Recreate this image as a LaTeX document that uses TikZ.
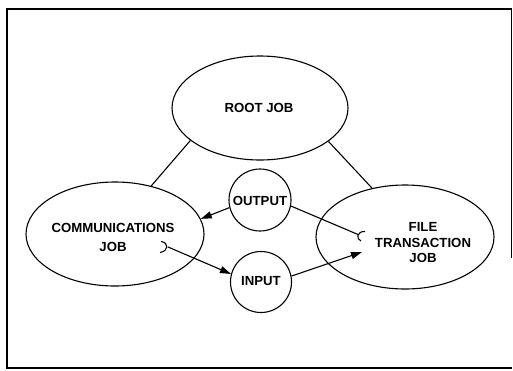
\documentclass[tikz,border=0pt]{standalone}
\usepackage{fontspec}
\setmainfont{Liberation Sans}
\usetikzlibrary{shapes.geometric,arrows.meta}
\tikzset{
  job/.style={draw, ellipse, line width=1.1pt, inner sep=0pt},
  port/.style={draw, circle, line width=1.1pt, inner sep=0pt, minimum size=62pt},
  lbl/.style={font=\fontsize{13.2}{15}\selectfont\bfseries, align=center, inner sep=0pt},
  conn/.style={line width=1.1pt},
  arr/.style={line width=1.1pt, -{Triangle[length=11pt,width=7pt]}},
  hook/.style={line width=1.1pt}
}
\begin{document}
\begin{tikzpicture}[x=1pt,y=-1pt]
\useasboundingbox (0,0) rectangle (513,370);
% frame
\draw[line width=1.4pt] (511.5,258) -- (511.5,9) -- (7,9) -- (7,368) -- (511.5,368);
% jobs
\node[job, minimum width=176pt, minimum height=104pt] (root) at (260,108) {};
\node[job, minimum width=178pt, minimum height=104pt] (comms) at (115,234) {};
\node[job, minimum width=178pt, minimum height=104pt] (file) at (405,237) {};
\node[port] (output) at (260,200) {};
\node[port, minimum size=61pt] (input) at (261,282) {};
% labels
\node[lbl] (troot) at (259,108) {ROOT JOB};
\node[lbl, font=\fontsize{13.2}{19}\selectfont\bfseries] (tcomms) at (113,237) {COMMUNICATIONS\\JOB};
\node[lbl, font=\fontsize{13.2}{15.5}\selectfont\bfseries] (tfile) at (423,243) {FILE\\TRANSACTION\\JOB};
\node[lbl] (toutput) at (260,200.5) {OUTPUT};
\node[lbl] (tinput) at (261,281.5) {INPUT};
% tree links
\draw[conn] (root.205.3) -- (comms.53);
\draw[conn] (root.334) -- (file.124.5);
% hooks
\coordinate (chook) at (168,247);
\coordinate (fhook) at (358,234.5);
\coordinate (ftip) at (362,252);
\draw[hook] (161,241.5) .. controls (169,242.5) and (169,251) .. (160,252.5);
\draw[hook] (365,231.5) .. controls (357,231) and (355.5,239) .. (361,241);
% data flows
\draw[arr] (output.194.5) -- (comms.10.7);
\draw[conn] (output.-11) -- (fhook);
\draw[arr] (chook) -- (input.165.5);
\draw[arr] (input.11) -- (ftip);
\end{tikzpicture}
\end{document}
